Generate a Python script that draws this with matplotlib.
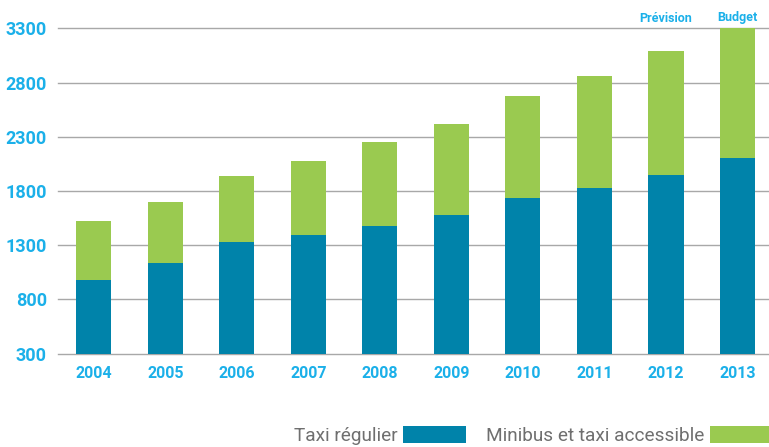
import numpy as np
import matplotlib
matplotlib.use('Agg')
import matplotlib.pyplot as plt

years = ['2004', '2005', '2006', '2007', '2008', '2009', '2010', '2011', '2012', '2013']
taxi = [975, 1140, 1330, 1390, 1475, 1580, 1735, 1830, 1950, 2100]
minibus = [545, 560, 610, 690, 780, 835, 945, 1030, 1140, 1200]
yticks = [300, 800, 1300, 1800, 2300, 2800, 3300]
notes = {'2012': 'Prévision', '2013': 'Budget'}

blue = '#0083aa'
green = '#9aca50'
cyan = '#1bb0e9'
grey_txt = '#6f6f6f'

plt.rcParams['font.family'] = ['Roboto', 'DejaVu Sans']

fig = plt.figure(figsize=(7.69, 4.47), dpi=100)
ax = fig.add_axes([0.0754, 0.2087, 0.9302, 0.7280])

x = np.arange(len(years))
base = 300
b1 = ax.bar(x, np.array(taxi) - base, bottom=base, width=0.49, color=blue, label='Taxi régulier', zorder=2)
b2 = ax.bar(x, minibus, bottom=taxi, width=0.49, color=green, label='Minibus et taxi accessible', zorder=2)

ax.set_xlim(-0.5, 9.5)
ax.set_ylim(300, 3300)
ax.set_yticks(yticks)
ax.set_yticklabels([str(v) for v in yticks])
ax.set_xticks(x)
ax.set_xticklabels(years)

ax.yaxis.grid(True, color='#a8a8a8', linewidth=1.0)
ax.set_axisbelow(True)
for line in ax.get_ygridlines():
    line.set_clip_on(False)

for s in ax.spines.values():
    s.set_visible(False)
ax.tick_params(axis='both', length=0, colors=cyan)
ax.tick_params(axis='y', pad=8, labelsize=13)
ax.tick_params(axis='x', pad=9, labelsize=11.5)
for lab in ax.get_xticklabels() + ax.get_yticklabels():
    lab.set_fontweight('bold')

for i, yr in enumerate(years):
    if yr in notes:
        ax.annotate(notes[yr], xy=(i, 429), xycoords=('data', 'figure pixels'),
                    ha='center', va='center', color=cyan, fontsize=9, fontweight='bold')

leg = fig.legend([b1, b2], ['Taxi régulier', 'Minibus et taxi accessible'],
                 loc='center right', bbox_to_anchor=(1.027, 0.025), ncol=2, frameon=False,
                 markerfirst=False, handlelength=3.3, handleheight=1.0, handletextpad=0.3,
                 columnspacing=1.05, fontsize=13.7)
for t in leg.get_texts():
    t.set_color(grey_txt)

fig.savefig('out.png', dpi=100)
